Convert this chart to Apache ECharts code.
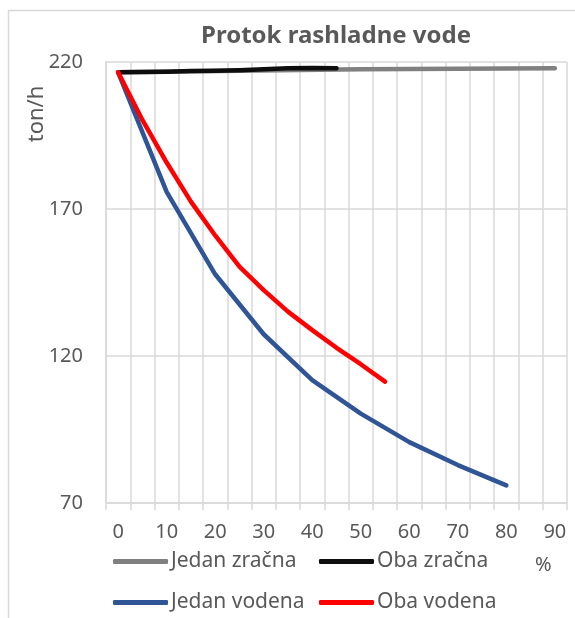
<!DOCTYPE html>
<html>
<head>
<meta charset="utf-8">
<title>Protok rashladne vode</title>
<script src="https://cdn.jsdelivr.net/npm/echarts@6/dist/echarts.min.js"></script>
<style>
    html, body { margin: 0; padding: 0; background: #fff; }
    #chart { width: 575px; height: 618px; }
</style>
</head>
<body>
<div id="chart"></div>
<script>
    // kategorije (%)
    var categories = ['0', '5', '10', '15', '20', '25', '30', '35', '40', '45',
        '50', '55', '60', '65', '70', '75', '80', '85', '90'];
    // tick-ovi y osi
    var yMin = 70, yMax = 220, yStep = 50;

    // podaci (ton/h), null = nema tocke
    var jedanZracna = [216.5, null, null, null, null, null, null, null, null, null,
        217.5, null, null, null, null, null, null, null, 217.9];
    var obaZracna = [216.5, 216.6, 216.7, 216.9, 217.0, 217.2, 217.5, 217.9, 218.0, 217.9];
    var jedanVodena = [216.5, null, 175.8, null, 147.8, null, 127.4, null, 111.8, null,
        100.4, null, 90.7, null, 82.9, null, 76.0];
    var obaVodena = [216.5, 200.3, 185.8, 172.5, 161.0, 150.4, 142.4, 135.1, 128.8, 122.8,
        117.2, 111.3];

    var FONT = '"Noto Sans", sans-serif';
    var TXT = '#595959';
    var GRID = '#d9d9d9';

    function lineSeries(name, data, color) {
        return {
            name: name,
            type: 'line',
            data: data,
            connectNulls: true,
            symbol: 'none',
            smooth: false,
            color: color,
            lineStyle: { width: 4.5, color: color, cap: 'round', join: 'round' }
        };
    }

    // jedna stavka legende (Excel poravnava stupce)
    function legendItem(name, left, top) {
        return {
            data: [name],
            left: left,
            top: top,
            padding: 0,
            icon: 'roundRect',
            itemWidth: 55,
            itemHeight: 5,
            textStyle: { fontFamily: FONT, fontSize: 21, color: TXT, padding: [0, 0, 0, -2] }
        };
    }

    var chart = echarts.init(document.getElementById('chart'), null, { renderer: 'canvas' });

    var option = {
        animation: false,
        backgroundColor: '#fff',
        textStyle: { fontFamily: FONT },
        title: {
            text: 'Protok rashladne vode',
            left: 196,
            top: 19,
            textStyle: { fontFamily: FONT, fontSize: 24, fontWeight: 'bold', color: TXT }
        },
        grid: { left: 106, right: 8, top: 62, height: 441 },
        xAxis: {
            type: 'category',
            data: categories,
            boundaryGap: true,
            name: '%',
            nameLocation: 'end',
            nameGap: -32,
            nameTextStyle: { fontFamily: FONT, fontSize: 20, color: TXT, verticalAlign: 'top', padding: [52, 0, 0, 0] },
            axisLine: { lineStyle: { color: GRID, width: 1.5 } },
            axisTick: { show: true, interval: 0, length: 7, lineStyle: { color: GRID, width: 1.5 } },
            axisLabel: { interval: 1, margin: 19, fontFamily: FONT, fontSize: 20, color: TXT },
            splitLine: { show: true, interval: 0, lineStyle: { color: GRID, width: 1.5 } }
        },
        yAxis: {
            type: 'value',
            min: yMin,
            max: yMax,
            interval: yStep,
            axisLine: { show: true, lineStyle: { color: GRID, width: 1.5 } },
            axisTick: { show: false },
            axisLabel: { margin: 23, fontFamily: FONT, fontSize: 20, color: TXT },
            splitLine: { show: true, lineStyle: { color: GRID, width: 1.5 } }
        },
        legend: [
            legendItem('Jedan zračna', 113, 551),
            legendItem('Oba zračna', 319, 551),
            legendItem('Jedan vodena', 113, 592),
            legendItem('Oba vodena', 319, 592)
        ],
        graphic: [{
            type: 'rect',
            silent: true,
            shape: { x: 8.5, y: 10.5, width: 700, height: 700 },
            style: { fill: 'none', stroke: GRID, lineWidth: 1.5 }
        }, {
            type: 'text',
            silent: true,
            x: 37,
            y: 114,
            rotation: Math.PI / 2,
            style: {
                text: 'ton/h',
                font: '22px "Noto Sans", sans-serif',
                fill: TXT,
                align: 'center',
                verticalAlign: 'middle'
            }
        }],
        series: [
            lineSeries('Jedan zračna', jedanZracna, '#808080'),
            lineSeries('Oba zračna', obaZracna, '#0d0d0d'),
            lineSeries('Jedan vodena', jedanVodena, '#2f5597'),
            lineSeries('Oba vodena', obaVodena, '#ff0000')
        ]
    };

    chart.setOption(option);
</script>
</body>
</html>
